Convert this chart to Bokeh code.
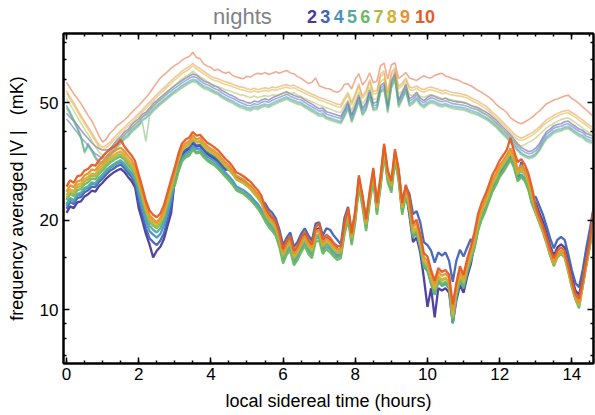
from bokeh.plotting import figure
from bokeh.layouts import column
from bokeh.models import (Range1d, FixedTicker, LinearAxis, LogAxis,
                          PrintfTickFormatter, CustomJSTickFormatter)
from bokeh.core.properties import value
from bokeh.embed import file_html
from bokeh.resources import INLINE

# Frequency-averaged |V| (mK) against local sidereal time, sampled every 0.1 h
# from 0.0 to 14.6 h.  "lower" = the strong curves, "upper" = the faint curves.

lower_n2 = [21.2, 22.3, 22.0, 23.0, 23.2, 24.1, 24.5, 25.2, 25.0, 26.1, 26.8, 27.7, 28.4, 29.0, 29.5, 29.9, 29.2, 28.1, 27.2, 25.9,
            22.0, 20.0, 18.0, 16.6, 15.0, 15.8, 16.3, 17.3, 19.2, 21.2,
            27.6, 30.8, 33.3, 34.3, 34.9, 36.5, 35.5, 35.7, 34.5, 33.5, 32.9, 32.3, 31.6, 30.6, 29.6, 30.3, 29.3, 28.0, 27.6, 27.2, 26.6, 26.0, 25.1, 24.3, 23.3,
            21.8, 20.8, 20.2, 19.4, 17.7, 15.7, 16.7, 17.3, 15.5, 16.1, 17.1, 18.0, 16.9, 16.3, 18.6, 18.8, 16.9, 17.5, 17.1, 16.5, 16.1,
            15.5, 18.6, 21.0, 17.2, 20.6, 27.0, 23.1, 19.2, 23.9, 28.6, 21.8, 26.9, 34.5, 28.0, 25.9, 33.1, 28.4, 21.8, 25.1,
            20.8, 16.9, 17.5, 15.6, 12.8, 10.2, 11.8, 9.4, 11.8, 11.6, 11.8, 11.4, 9.0, 10.7, 12.1, 11.4, 12.9, 14.2,
            16.5, 19.0, 20.8, 22.1, 23.9, 25.8, 27.2, 28.9, 30.1, 31.4, 33.0, 31.0, 27.9, 30.6, 28.8, 26.0, 23.3,
            22.9, 21.2, 19.8, 18.1, 16.4, 15.2, 16.2, 16.6, 16.2, 14.6, 12.9, 11.6, 11.2, 12.9, 15.2, 17.7, 21.8]

lower_n3 = [21.9, 23.1, 22.7, 23.8, 24.0, 24.9, 25.3, 26.0, 25.9, 27.0, 27.7, 28.6, 29.4, 29.9, 30.5, 30.9, 30.1, 29.0, 28.1, 26.8,
            23.1, 20.9, 18.8, 17.4, 16.9, 16.5, 17.1, 18.1, 20.1, 22.2,
            27.9, 31.1, 33.7, 34.7, 35.2, 36.8, 35.8, 36.0, 34.8, 33.9, 33.3, 32.7, 31.9, 30.9, 29.9, 29.6, 28.8, 27.8, 27.4, 27.0, 26.4, 25.8, 25.0, 24.1, 23.0,
            22.9, 21.8, 21.2, 20.3, 18.6, 16.5, 17.5, 18.2, 16.3, 16.9, 18.0, 18.8, 17.8, 17.1, 19.5, 19.7, 17.8, 18.8, 18.6, 17.8, 17.2,
            16.6, 20.4, 22.2, 18.4, 21.0, 27.2, 23.9, 20.0, 24.2, 29.0, 22.6, 27.0, 35.0, 29.0, 26.8, 33.4, 29.4, 22.8, 26.0,
            24.6, 21.0, 21.5, 19.7, 16.9, 16.5, 15.8, 14.4, 15.6, 15.2, 15.6, 14.6, 12.4, 14.6, 15.9, 15.1, 16.2, 17.3,
            16.5, 19.0, 20.8, 22.1, 23.9, 25.8, 27.2, 28.9, 30.1, 31.4, 33.0, 31.0, 27.9, 31.5, 28.8, 26.6, 24.0,
            24.0, 22.4, 20.9, 19.1, 17.4, 16.1, 17.2, 17.6, 17.2, 15.4, 13.6, 12.3, 11.9, 13.6, 16.1, 18.7, 22.0]

lower_n4 = [22.4, 23.6, 23.2, 24.3, 24.5, 25.5, 25.8, 26.6, 26.4, 27.6, 28.3, 29.3, 30.0, 30.6, 31.2, 31.5, 30.8, 29.6, 28.7, 27.4,
            24.4, 22.1, 19.9, 18.4, 17.9, 17.5, 18.0, 19.2, 21.2, 23.4,
            27.1, 30.1, 32.6, 33.6, 34.2, 35.7, 34.8, 34.9, 33.8, 32.8, 32.3, 31.7, 30.9, 30.0, 29.0, 28.2, 27.3, 26.1, 25.7, 25.3, 24.8, 24.2, 23.4, 22.7, 21.7,
            20.8, 19.8, 19.2, 18.4, 16.9, 14.9, 15.9, 16.5, 14.7, 15.3, 16.3, 17.1, 16.1, 15.5, 17.7, 17.8, 16.1, 16.7, 16.3, 15.7, 15.3,
            15.3, 18.4, 20.8, 17.1, 20.4, 26.8, 22.9, 19.0, 23.7, 28.3, 21.5, 26.6, 34.1, 27.7, 25.6, 32.8, 28.1, 21.5, 24.8,
            21.7, 17.7, 18.2, 16.3, 14.0, 13.6, 12.3, 11.3, 12.5, 12.1, 12.3, 11.9, 9.0, 11.1, 12.7, 11.9, 13.4, 14.8,
            16.3, 18.8, 20.5, 21.9, 23.6, 25.5, 26.9, 28.6, 29.8, 31.1, 32.6, 30.7, 27.6, 28.6, 27.6, 25.7, 23.0,
            21.6, 20.0, 18.6, 17.1, 15.5, 14.3, 15.3, 15.7, 15.3, 13.7, 12.2, 11.0, 10.4, 12.2, 14.3, 16.7, 20.6]

lower_n5 = [22.7, 23.8, 23.4, 24.6, 24.8, 25.7, 26.1, 26.9, 26.7, 27.8, 28.6, 29.6, 30.3, 30.9, 31.5, 31.9, 31.1, 30.0, 29.0, 27.6,
            25.4, 23.1, 20.8, 19.2, 18.6, 18.2, 18.8, 20.0, 22.1, 24.4,
            26.5, 29.5, 32.0, 32.9, 33.5, 35.0, 34.0, 34.2, 33.1, 32.1, 31.6, 31.0, 30.3, 29.3, 28.4, 27.6, 26.7, 25.6, 25.2, 24.8, 24.3, 23.7, 22.9, 22.2, 21.2,
            20.3, 19.4, 18.8, 18.1, 16.5, 14.6, 15.6, 16.2, 14.4, 15.0, 16.0, 16.7, 15.8, 15.2, 17.3, 17.5, 15.8, 16.3, 16.0, 15.4, 15.0,
            15.2, 18.2, 20.5, 16.9, 20.2, 26.5, 22.7, 18.8, 23.4, 28.0, 21.3, 26.3, 33.8, 27.5, 25.3, 32.4, 27.8, 21.3, 24.6,
            21.5, 17.5, 18.1, 16.2, 13.9, 13.5, 12.2, 11.2, 12.4, 12.0, 12.2, 11.8, 9.0, 11.0, 12.5, 11.8, 13.3, 14.6,
            16.2, 18.6, 20.3, 21.7, 23.4, 25.3, 26.6, 28.3, 29.5, 30.8, 32.3, 30.4, 27.4, 28.3, 27.4, 25.5, 22.8,
            21.3, 19.8, 18.4, 16.9, 15.3, 14.2, 15.1, 15.5, 15.1, 13.6, 12.0, 10.9, 10.5, 12.0, 14.2, 16.5, 20.4]

lower_n6 = [23.4, 24.6, 24.2, 25.3, 25.5, 26.5, 26.9, 27.7, 27.5, 28.7, 29.5, 30.5, 31.3, 31.9, 32.5, 32.9, 32.1, 30.9, 29.9, 28.5,
            26.2, 23.8, 21.4, 19.8, 19.2, 18.8, 19.4, 20.6, 22.8, 25.2,
            26.2, 29.2, 31.6, 32.6, 33.1, 34.6, 33.7, 33.9, 32.7, 31.8, 31.2, 30.7, 29.9, 29.0, 28.1, 27.3, 26.4, 25.3, 24.9, 24.6, 24.0, 23.4, 22.7, 21.9, 21.0,
            19.9, 19.0, 18.4, 17.7, 16.2, 14.3, 15.3, 15.8, 14.1, 14.7, 15.6, 16.4, 15.4, 14.9, 16.9, 17.1, 15.4, 16.0, 15.6, 15.1, 14.7,
            14.9, 17.9, 20.1, 16.5, 19.7, 25.9, 22.2, 18.4, 22.9, 27.4, 20.9, 25.8, 33.1, 26.9, 24.8, 31.8, 27.3, 20.9, 24.1,
            21.9, 17.8, 18.4, 16.5, 14.2, 13.8, 12.4, 11.4, 12.6, 12.2, 12.4, 12.0, 9.3, 11.3, 12.8, 12.0, 13.6, 14.9,
            16.0, 18.4, 20.1, 21.4, 23.1, 25.0, 26.3, 28.0, 29.1, 30.5, 32.0, 30.1, 27.1, 28.0, 27.1, 25.2, 22.6,
            21.1, 19.6, 18.2, 16.7, 15.2, 14.0, 15.0, 15.4, 15.0, 13.4, 11.9, 10.8, 10.1, 11.9, 14.0, 16.3, 20.2]

lower_n7 = [23.8, 25.0, 24.6, 25.9, 26.1, 27.1, 27.5, 28.3, 28.1, 29.3, 30.1, 31.1, 31.9, 32.5, 33.1, 33.5, 32.7, 31.5, 30.5, 29.1,
            26.5, 24.0, 21.6, 20.0, 19.4, 19.0, 19.6, 20.8, 23.0, 25.5,
            28.5, 31.7, 34.3, 35.4, 36.0, 37.6, 36.6, 36.8, 35.6, 34.5, 33.9, 33.3, 32.5, 31.5, 30.5, 29.7, 28.7, 27.5, 27.1, 26.7, 26.1, 25.5, 24.6, 23.8, 22.8,
            21.0, 20.0, 19.4, 18.6, 17.1, 15.1, 16.1, 16.7, 14.9, 15.5, 16.5, 17.2, 16.3, 15.7, 17.8, 18.0, 16.3, 16.9, 16.5, 15.9, 15.5,
            15.6, 18.8, 21.2, 17.4, 20.8, 27.3, 23.4, 19.4, 24.2, 28.9, 22.0, 27.1, 34.8, 28.3, 26.1, 33.5, 28.7, 22.0, 25.3,
            22.4, 18.2, 18.8, 16.8, 14.5, 14.1, 12.7, 11.7, 12.9, 12.5, 12.7, 12.3, 9.4, 11.5, 13.1, 12.3, 13.9, 15.2,
            16.8, 19.4, 21.2, 22.6, 24.4, 26.3, 27.7, 29.5, 30.7, 32.1, 33.7, 31.7, 28.5, 29.5, 28.5, 26.5, 23.8,
            21.3, 19.8, 18.4, 16.9, 15.3, 14.2, 15.1, 15.5, 15.1, 13.6, 12.0, 10.9, 10.3, 12.0, 14.2, 16.5, 20.4]

lower_n8 = [24.3, 25.5, 25.1, 26.4, 26.6, 27.6, 28.0, 28.8, 28.6, 29.9, 30.7, 31.7, 32.5, 33.2, 33.8, 34.2, 33.4, 32.1, 31.1, 29.7,
            27.0, 24.5, 22.0, 20.4, 19.8, 19.4, 20.0, 21.2, 23.5, 26.0,
            28.8, 32.0, 34.7, 35.7, 36.3, 37.9, 36.9, 37.1, 35.9, 34.9, 34.3, 33.7, 32.8, 31.8, 30.8, 30.0, 29.0, 27.7, 27.3, 26.9, 26.3, 25.7, 24.9, 24.1, 23.1,
            21.4, 20.4, 19.8, 19.0, 17.4, 15.4, 16.4, 17.0, 15.2, 15.8, 16.8, 17.6, 16.6, 16.0, 18.2, 18.4, 16.6, 17.2, 16.8, 16.2, 15.8,
            15.8, 19.0, 21.4, 17.6, 21.0, 27.6, 23.6, 19.6, 24.4, 29.2, 22.2, 27.4, 35.2, 28.6, 26.4, 33.8, 29.0, 22.2, 25.6,
            22.6, 18.4, 19.0, 17.0, 14.6, 14.2, 12.8, 11.8, 13.0, 12.6, 12.8, 12.4, 9.6, 11.6, 13.2, 12.4, 14.0, 15.4,
            17.2, 19.8, 21.6, 23.0, 24.8, 26.9, 28.3, 30.1, 31.3, 32.7, 34.3, 32.3, 29.1, 30.1, 29.1, 27.1, 24.2,
            21.6, 20.0, 18.6, 17.1, 15.5, 14.3, 15.3, 15.7, 15.3, 13.7, 12.2, 11.0, 10.4, 12.2, 14.3, 16.7, 20.6]

lower_n9 = [25.0, 26.3, 25.9, 27.1, 27.3, 28.4, 28.8, 29.7, 29.5, 30.7, 31.6, 32.6, 33.5, 34.1, 34.8, 35.2, 34.3, 33.1, 32.0, 30.5,
            27.5, 25.0, 22.5, 20.8, 20.2, 19.7, 20.4, 21.6, 23.9, 26.5,
            29.3, 32.7, 35.4, 36.4, 37.0, 38.7, 37.6, 37.9, 36.6, 35.6, 34.9, 34.3, 33.5, 32.4, 31.4, 30.6, 29.5, 28.3, 27.9, 27.5, 26.8, 26.2, 25.4, 24.5, 23.5,
            21.6, 20.6, 20.0, 19.2, 17.6, 15.6, 16.6, 17.2, 15.4, 16.0, 17.0, 17.8, 16.8, 16.2, 18.4, 18.6, 16.8, 17.4, 17.0, 16.4, 16.0,
            16.0, 19.2, 21.6, 17.8, 21.2, 27.9, 23.8, 19.8, 24.6, 29.5, 22.4, 27.7, 35.6, 28.9, 26.7, 34.1, 29.3, 22.4, 25.9,
            23.3, 19.0, 19.6, 17.5, 15.0, 14.6, 13.2, 12.2, 13.4, 13.0, 13.2, 12.8, 9.9, 11.9, 13.6, 12.8, 14.4, 15.9,
            17.5, 20.2, 22.0, 23.5, 25.3, 27.4, 28.8, 30.7, 31.9, 33.4, 35.0, 33.0, 29.7, 30.7, 29.7, 27.6, 24.7,
            21.8, 20.2, 18.8, 17.2, 15.6, 14.5, 15.4, 15.8, 15.4, 13.9, 12.3, 11.1, 10.5, 12.3, 14.5, 16.8, 20.8]

lower_n10 = [26.0, 27.3, 26.8, 28.2, 28.4, 29.5, 29.9, 30.8, 30.6, 31.9, 32.8, 33.9, 34.8, 35.4, 36.1, 37.5, 35.6, 34.3, 33.2, 31.7,
             28.6, 25.9, 23.3, 21.6, 20.9, 20.5, 21.1, 22.5, 24.9, 27.5,
             30.2, 33.6, 36.4, 37.5, 38.1, 39.8, 38.7, 38.9, 37.7, 36.6, 36.0, 35.3, 34.5, 33.4, 32.3, 31.5, 30.4, 29.1, 28.7, 28.2, 27.6, 27.0, 26.1, 25.3, 24.2,
             22.3, 21.2, 20.6, 19.8, 18.1, 16.0, 17.1, 17.7, 15.8, 16.4, 17.5, 18.3, 17.3, 16.6, 18.9, 19.6, 17.3, 17.9, 17.5, 16.8, 16.4,
             16.3, 19.6, 22.0, 18.1, 21.6, 28.4, 24.3, 20.2, 25.1, 30.1, 22.9, 28.2, 36.3, 29.5, 27.2, 34.8, 29.9, 22.9, 26.4,
             24.0, 19.5, 20.1, 18.0, 15.5, 15.1, 13.6, 12.5, 13.8, 13.4, 13.6, 13.1, 10.4, 12.3, 14.0, 13.1, 14.8, 16.3,
             18.2, 21.0, 22.9, 24.4, 26.3, 28.5, 30.0, 31.9, 33.2, 34.7, 38.0, 34.2, 31.5, 32.2, 30.8, 28.7, 25.7,
             22.4, 20.6, 19.2, 17.6, 16.0, 14.9, 15.8, 16.2, 15.8, 14.2, 12.5, 11.3, 10.9, 12.5, 14.8, 17.3, 21.8]

upper_n2 = [46.0, 44.6, 43.4, 42.0, 40.4, 39.0, 37.8, 36.6, 35.6, 35.0,
            34.6, 34.6, 34.7, 36.1, 37.4, 38.4, 39.7, 40.5, 42.0, 43.1,
            44.1, 45.6, 46.4, 47.9, 49.6, 50.8, 52.1, 53.3, 54.6, 55.9,
            57.1, 58.2, 59.4, 60.5, 61.5, 62.4, 62.0, 60.5, 59.2, 58.6,
            57.8, 56.9, 56.3, 55.0, 54.2, 53.3, 52.7, 51.9, 51.0, 50.6,
            50.0, 49.8, 50.6, 50.2, 51.0, 51.5, 51.0, 51.9, 52.5, 53.1,
            53.8, 54.4, 53.6, 52.9, 52.3, 52.1, 51.0, 50.2, 49.4, 48.5,
            47.7, 47.9, 46.6, 46.2, 45.8, 45.4, 44.9, 47.3, 50.4, 45.4,
            48.9, 53.1, 47.9, 50.0, 55.2, 49.8, 50.2, 57.1, 58.4, 48.9,
            59.2, 63.0, 51.0, 54.2, 57.8, 51.5, 52.5, 54.2, 51.9, 50.8,
            52.1, 52.9, 52.5, 51.7, 51.2, 51.7, 51.0, 50.6, 50.4, 50.2,
            50.0, 49.6, 48.9, 48.5, 48.1, 47.3, 46.6, 45.8, 44.7, 43.7,
            42.4, 41.2, 40.1, 38.9, 37.6, 36.3, 35.3, 34.7, 34.2, 34.4,
            35.1, 36.3, 38.2, 39.9, 40.7, 41.8, 42.2, 42.4, 43.1, 43.3,
            42.4, 41.6, 40.7, 40.3, 39.3, 38.9, 38.4]

upper_n3 = [44.0, 42.6, 41.0, 39.6, 38.0, 37.0, 35.8, 34.6, 33.6, 33.0,
            32.4, 32.8, 34.0, 35.4, 36.7, 37.7, 38.9, 39.8, 41.2, 42.2,
            43.3, 44.7, 45.5, 47.0, 48.6, 49.9, 51.1, 52.3, 53.6, 54.8,
            56.0, 57.1, 58.3, 59.3, 60.4, 61.2, 60.8, 59.3, 58.1, 57.5,
            56.7, 55.8, 55.2, 54.0, 53.1, 52.3, 51.7, 50.9, 50.1, 49.6,
            49.0, 48.8, 49.6, 49.2, 50.1, 50.5, 50.1, 50.9, 51.5, 52.1,
            52.7, 53.4, 52.5, 51.9, 51.3, 51.1, 50.1, 49.2, 48.4, 47.6,
            46.8, 47.0, 45.7, 45.3, 44.9, 44.5, 44.1, 46.4, 49.4, 44.5,
            48.0, 52.1, 47.0, 49.0, 54.2, 48.8, 49.2, 56.0, 57.3, 48.0,
            58.1, 61.8, 50.1, 53.1, 56.7, 50.5, 51.5, 53.1, 50.9, 49.9,
            51.1, 51.9, 51.5, 50.7, 50.3, 50.7, 50.1, 49.6, 49.4, 49.2,
            49.0, 48.6, 48.0, 47.6, 47.2, 46.4, 45.7, 44.9, 43.9, 42.8,
            41.6, 40.4, 39.3, 38.1, 36.9, 35.6, 34.6, 34.0, 33.6, 33.8,
            34.4, 35.6, 37.5, 39.1, 40.0, 41.0, 41.4, 41.6, 42.2, 42.4,
            41.6, 40.8, 40.0, 39.6, 38.5, 38.1, 37.7]

upper_n4 = [49.0, 46.5, 43.9, 41.4, 38.6, 34.3, 36.4, 34.7, 32.9, 31.7,
            31.3, 32.1, 33.3, 34.7, 36.0, 37.0, 38.2, 39.0, 40.4, 41.4,
            42.4, 43.8, 44.6, 46.1, 47.7, 48.9, 50.1, 51.3, 52.5, 53.7,
            54.9, 56.0, 57.2, 58.2, 59.2, 60.0, 59.6, 58.2, 57.0, 56.4,
            55.6, 54.7, 54.1, 52.9, 52.1, 51.3, 50.7, 49.9, 49.1, 48.7,
            48.1, 47.9, 48.7, 48.3, 49.1, 49.5, 49.1, 49.9, 50.5, 51.1,
            51.7, 52.3, 51.5, 50.9, 50.3, 50.1, 49.1, 48.3, 47.5, 46.7,
            45.9, 46.1, 44.8, 44.4, 44.0, 43.6, 43.2, 45.5, 48.5, 43.6,
            47.1, 51.1, 46.1, 48.1, 53.1, 47.9, 48.3, 54.9, 56.2, 47.1,
            57.0, 60.6, 49.1, 52.1, 55.6, 49.5, 50.5, 52.1, 49.9, 48.9,
            50.1, 50.9, 50.5, 49.7, 49.3, 49.7, 49.1, 48.7, 48.5, 48.3,
            48.1, 47.7, 47.1, 46.7, 46.3, 45.5, 44.8, 44.0, 43.0, 42.0,
            40.8, 39.6, 38.6, 37.4, 36.2, 34.9, 33.9, 33.3, 32.9, 33.1,
            33.7, 34.9, 36.8, 38.4, 39.2, 40.2, 40.6, 40.8, 41.4, 41.6,
            40.8, 40.0, 39.2, 38.8, 37.8, 37.4, 37.0]

upper_n5 = [48.5, 46.0, 43.5, 41.0, 38.2, 34.0, 36.0, 34.4, 32.6, 31.4,
            31.0, 31.8, 33.0, 34.4, 35.6, 36.6, 37.8, 38.6, 40.0, 41.0,
            42.0, 43.4, 44.2, 45.6, 47.2, 48.4, 49.6, 50.8, 52.0, 53.2,
            54.4, 55.4, 56.6, 57.6, 58.6, 59.4, 59.0, 57.6, 56.4, 55.8,
            55.0, 54.2, 53.6, 52.4, 51.6, 50.8, 50.2, 49.4, 48.6, 48.2,
            47.6, 47.4, 48.2, 47.8, 48.6, 49.0, 48.6, 49.4, 50.0, 50.6,
            51.2, 51.8, 51.0, 50.4, 49.8, 49.6, 48.6, 47.8, 47.0, 46.2,
            45.4, 45.6, 44.4, 44.0, 43.6, 43.2, 42.8, 45.0, 48.0, 43.2,
            46.6, 50.6, 45.6, 47.6, 52.6, 47.4, 47.8, 54.4, 55.6, 46.6,
            56.4, 60.0, 48.6, 51.6, 55.0, 49.0, 50.0, 51.6, 49.4, 48.4,
            49.6, 50.4, 50.0, 49.2, 48.8, 49.2, 48.6, 48.2, 48.0, 47.8,
            47.6, 47.2, 46.6, 46.2, 45.8, 45.0, 44.4, 43.6, 42.6, 41.6,
            40.4, 39.2, 38.2, 37.0, 35.8, 34.6, 33.6, 33.0, 32.6, 32.8,
            33.4, 34.6, 36.4, 38.0, 38.8, 39.8, 40.2, 40.4, 41.0, 41.2,
            40.4, 39.6, 38.8, 38.4, 37.4, 37.0, 36.6]

upper_n6 = [48.0, 45.5, 43.1, 40.6, 37.8, 33.7, 35.6, 34.1, 32.3, 31.1,
            30.7, 31.5, 32.7, 34.1, 35.2, 36.2, 37.4, 38.2, 39.6, 40.6,
            41.6, 43.0, 37.0, 45.1, 46.7, 47.9, 49.1, 50.3, 51.5, 52.7,
            53.9, 54.8, 56.0, 57.0, 58.0, 58.8, 58.4, 57.0, 55.8, 55.2,
            54.5, 53.7, 53.1, 51.9, 51.1, 50.3, 49.7, 48.9, 48.1, 47.7,
            47.1, 46.9, 47.7, 47.3, 48.1, 48.5, 48.1, 48.9, 49.5, 50.1,
            50.7, 51.3, 50.5, 49.9, 49.3, 49.1, 48.1, 47.3, 46.5, 45.7,
            44.9, 45.1, 44.0, 43.6, 43.2, 42.8, 42.4, 44.6, 47.5, 42.8,
            46.1, 50.1, 45.1, 47.1, 52.1, 46.9, 47.3, 53.9, 55.0, 46.1,
            55.8, 59.4, 48.1, 51.1, 54.5, 48.5, 49.5, 51.1, 48.9, 47.9,
            49.1, 49.9, 49.5, 48.7, 48.3, 48.7, 48.1, 47.7, 47.5, 47.3,
            47.1, 46.7, 46.1, 45.7, 45.3, 44.6, 44.0, 43.2, 42.2, 41.2,
            40.0, 38.8, 37.8, 36.6, 35.4, 34.3, 33.3, 32.7, 32.3, 32.5,
            33.1, 34.3, 36.0, 37.6, 38.4, 39.4, 39.8, 40.0, 40.6, 40.8,
            40.0, 39.2, 38.4, 38.0, 37.0, 36.6, 36.2]

upper_n7 = [51.6, 49.2, 47.0, 44.7, 42.6, 40.7, 39.0, 37.2, 35.5, 34.0,
            33.2, 33.8, 34.6, 35.7, 36.7, 37.8, 38.8, 39.9, 40.9, 42.0,
            43.2, 44.5, 45.9, 47.2, 48.6, 50.1, 51.5, 52.8, 54.3, 55.7,
            57.2, 58.6, 60.1, 61.2, 62.2, 63.9, 62.4, 61.2, 60.1, 58.9,
            57.8, 57.0, 56.6, 55.9, 55.3, 54.9, 54.3, 53.8, 53.2, 53.0,
            52.4, 52.0, 52.6, 52.0, 52.4, 52.8, 52.4, 53.2, 52.8, 53.4,
            53.8, 54.1, 53.6, 54.0, 53.0, 52.4, 51.6, 50.9, 50.3, 49.7,
            49.0, 48.6, 48.0, 47.6, 47.0, 46.5, 46.3, 48.8, 50.9, 47.0,
            50.5, 54.5, 49.5, 51.6, 56.3, 51.3, 51.6, 58.9, 60.1, 50.7,
            59.5, 61.6, 53.4, 54.7, 57.0, 53.2, 52.8, 53.6, 52.6, 52.0,
            52.8, 53.2, 52.6, 52.2, 51.5, 51.8, 51.3, 50.9, 50.7, 50.5,
            50.1, 49.7, 49.0, 48.2, 47.6, 46.7, 45.9, 44.9, 43.6, 42.6,
            41.5, 40.3, 39.2, 38.0, 36.9, 36.1, 35.7, 36.1, 36.7, 37.2,
            38.0, 39.0, 40.1, 41.1, 41.9, 42.6, 43.2, 43.8, 44.2, 44.4,
            43.6, 42.8, 41.9, 41.1, 40.1, 39.4, 38.6]

upper_n8 = [53.8, 51.2, 49.0, 46.6, 44.4, 42.4, 40.6, 38.8, 37.0, 35.4,
            34.6, 35.2, 36.0, 37.2, 38.2, 39.4, 40.4, 41.6, 42.6, 43.8,
            45.0, 46.4, 47.8, 49.2, 50.6, 52.2, 53.6, 55.0, 56.6, 58.0,
            59.6, 61.0, 62.6, 63.8, 64.8, 66.6, 65.0, 63.8, 62.6, 61.4,
            60.2, 59.4, 59.0, 58.2, 57.6, 57.2, 56.6, 56.0, 55.4, 55.2,
            54.6, 54.2, 54.8, 54.2, 54.6, 55.0, 54.6, 55.4, 55.0, 55.6,
            56.0, 56.4, 55.8, 56.2, 55.2, 54.6, 53.8, 53.0, 52.4, 51.8,
            51.0, 50.6, 50.0, 49.6, 49.0, 48.4, 48.2, 50.8, 53.0, 49.0,
            52.6, 56.8, 51.6, 53.8, 58.6, 53.4, 53.8, 61.4, 62.6, 52.8,
            62.0, 64.2, 55.6, 57.0, 59.4, 55.4, 55.0, 55.8, 54.8, 54.2,
            55.0, 55.4, 54.8, 54.4, 53.6, 54.0, 53.4, 53.0, 52.8, 52.6,
            52.2, 51.8, 51.0, 50.2, 49.6, 48.6, 47.8, 46.8, 45.4, 44.4,
            43.2, 42.0, 40.8, 39.6, 38.4, 37.6, 37.2, 37.6, 38.2, 38.8,
            39.6, 40.6, 41.8, 42.8, 43.6, 44.4, 45.0, 45.6, 46.0, 46.2,
            45.4, 44.6, 43.6, 42.8, 41.8, 41.0, 40.2]

upper_n9 = [54.9, 52.2, 50.0, 47.5, 45.3, 43.2, 41.4, 39.6, 37.7, 36.1,
            35.3, 35.9, 36.7, 37.9, 39.0, 40.2, 41.2, 42.4, 43.5, 44.7,
            45.9, 47.3, 48.8, 50.2, 51.6, 53.2, 54.7, 56.1, 57.7, 59.2,
            60.8, 62.2, 63.9, 65.1, 66.1, 67.9, 66.3, 65.1, 63.9, 62.6,
            61.4, 60.6, 60.2, 59.4, 58.8, 58.3, 57.7, 57.1, 56.5, 56.3,
            55.7, 55.3, 55.9, 55.3, 55.7, 56.1, 55.7, 56.5, 56.1, 56.7,
            57.1, 57.5, 56.9, 57.3, 56.3, 55.7, 54.9, 54.1, 53.4, 52.8,
            52.0, 51.6, 51.0, 50.6, 50.0, 49.4, 49.2, 51.8, 54.1, 50.0,
            53.7, 57.9, 52.6, 54.9, 59.8, 54.5, 54.9, 62.6, 63.9, 53.9,
            63.2, 65.5, 56.7, 58.1, 60.6, 56.5, 56.1, 56.9, 55.9, 55.3,
            56.1, 56.5, 55.9, 55.5, 54.7, 55.1, 54.5, 54.1, 53.9, 53.7,
            53.2, 52.8, 52.0, 51.2, 50.6, 49.6, 48.8, 47.7, 46.3, 45.3,
            44.1, 42.8, 41.6, 40.4, 39.2, 38.4, 37.9, 38.4, 39.0, 39.6,
            40.4, 41.4, 42.6, 43.7, 44.5, 45.3, 45.9, 46.5, 46.9, 47.1,
            46.3, 45.5, 44.5, 43.7, 42.6, 41.8, 41.0]

upper_n10 = [58.5, 56.0, 53.6, 51.6, 49.6, 47.4, 45.2, 43.4, 41.0, 38.6,
             36.8, 37.6, 39.4, 40.4, 41.8, 42.6, 43.6, 44.8, 46.2, 47.6,
             48.8, 50.4, 52.0, 53.8, 56.0, 58.4, 60.6, 62.0, 63.6, 65.4,
             66.8, 67.8, 69.6, 70.8, 71.6, 74.0, 71.0, 70.4, 67.6, 66.4,
             65.8, 64.2, 64.8, 63.6, 62.8, 63.4, 61.8, 61.0, 60.6, 60.2,
             61.4, 61.0, 62.2, 62.8, 62.4, 63.2, 62.2, 62.8, 63.6, 62.8,
             63.6, 64.2, 63.0, 62.6, 61.2, 60.4, 59.2, 58.0, 58.6, 60.6,
             57.0, 56.4, 55.8, 55.6, 54.6, 54.2, 55.0, 57.6, 58.0, 55.6,
             60.0, 62.6, 57.4, 59.4, 63.0, 58.4, 59.0, 66.6, 68.0, 60.0,
             67.0, 68.2, 60.4, 61.6, 63.2, 60.6, 60.0, 59.4, 60.6, 61.6,
             60.8, 60.6, 61.8, 62.4, 62.8, 61.4, 61.0, 60.2, 59.8, 59.2,
             58.2, 57.8, 57.0, 56.0, 55.0, 54.2, 53.2, 52.2, 51.0, 49.4,
             48.2, 47.4, 46.2, 44.4, 43.6, 42.8, 42.4, 43.0, 43.8, 44.6,
             45.8, 46.8, 48.2, 49.6, 50.2, 51.0, 51.4, 52.0, 52.6, 53.0,
             51.6, 50.8, 49.6, 48.4, 47.2, 46.0, 44.8]

nights = ["2", "3", "4", "5", "6", "7", "8", "9", "10"]
night_colors = ["#48399a", "#3e63b8", "#4a92c6", "#55aa9c", "#6cb862",
                "#a8b944", "#d6ae34", "#e8912e", "#e45c27"]
lower_series = [lower_n2, lower_n3, lower_n4, lower_n5, lower_n6,
                lower_n7, lower_n8, lower_n9, lower_n10]
upper_series = [upper_n2, upper_n3, upper_n4, upper_n5, upper_n6,
                upper_n7, upper_n8, upper_n9, upper_n10]

x_major = [0, 2, 4, 6, 8, 10, 12, 14]
x_minor = [0.5 * k for k in range(30)]
y_major = [10, 20, 50]
y_minor = [7, 8, 9, 15, 30, 40, 60, 70, 80]

N_SAMPLES = 147
bad = [(i, len(s)) for i, s in enumerate(lower_series + upper_series) if len(s) != N_SAMPLES]
if bad:
    raise ValueError(f"series with wrong length: {bad}")

hours = [round(0.1 * i, 1) for i in range(N_SAMPLES)]

FONT = "Liberation Sans"
WIDTH = 595
HEADER_H = 31
MAIN_H = 415 - HEADER_H
X_START, X_END = -0.083, 14.60
BORDER_L, BORDER_R = 63, 2

# ---- main panel -------------------------------------------------------------
p = figure(width=WIDTH, height=MAIN_H, y_axis_type="log",
           x_range=Range1d(X_START, X_END), y_range=Range1d(6.57, 85.6),
           output_backend="svg", toolbar_location=None,
           min_border_left=BORDER_L, min_border_right=BORDER_R,
           min_border_top=2, min_border_bottom=52,
           background_fill_color="white", border_fill_color="white")
p.grid.visible = False
p.outline_line_color = "black"
p.outline_line_width = 2

# faint curves first, strong curves on top (night 10 drawn last)
for color, series in zip(night_colors, upper_series):
    p.line(hours, series, line_color=color, line_alpha=0.5, line_width=1.6)
for color, series in zip(night_colors, lower_series):
    p.line(hours, series, line_color=color, line_alpha=0.95, line_width=2.3)


def style_axis(ax, ticker):
    ax.ticker = ticker
    ax.axis_line_color = "black"
    ax.axis_line_width = 2
    ax.major_tick_in = 6
    ax.major_tick_out = 0
    ax.minor_tick_in = 3
    ax.minor_tick_out = 0
    ax.major_tick_line_width = 1.5
    ax.minor_tick_line_width = 1.5
    ax.major_tick_line_color = "black"
    ax.minor_tick_line_color = "black"


x_ticker = FixedTicker(ticks=x_major, minor_ticks=x_minor)
y_ticker = FixedTicker(ticks=y_major, minor_ticks=y_minor)

xa = p.xaxis[0]
style_axis(xa, x_ticker)
xa.major_label_text_font = FONT
xa.major_label_text_font_size = "17px"
xa.major_label_text_color = "black"
xa.major_label_standoff = 4
xa.axis_label = "local sidereal time (hours)"
xa.axis_label_text_font = FONT
xa.axis_label_text_font_size = "18px"
xa.axis_label_text_font_style = "normal"
xa.axis_label_text_color = "black"
xa.axis_label_standoff = 8

ya = p.yaxis[0]
style_axis(ya, y_ticker)
ya.formatter = PrintfTickFormatter(format="%d")
ya.major_label_text_font = FONT
ya.major_label_text_font_size = "17px"
ya.major_label_text_color = "black"
ya.major_label_standoff = 5
ya.axis_label = "frequency averaged |V\u00a0|\u00a0\u00a0\u00a0(mK)"
ya.axis_label_text_font = FONT
ya.axis_label_text_font_size = "18px"
ya.axis_label_text_font_style = "normal"
ya.axis_label_text_color = "black"
ya.axis_label_standoff = 10

blank = CustomJSTickFormatter(code="return ''")
top = LinearAxis(formatter=blank, major_label_text_font_size="1px", major_label_standoff=0)
style_axis(top, x_ticker)
p.add_layout(top, "above")
right = LogAxis(formatter=blank, major_label_text_font_size="1px", major_label_standoff=0)
style_axis(right, y_ticker)
p.add_layout(right, "right")

# ---- header strip: "nights" followed by the coloured night numbers ---------
# shares the main panel's horizontal mapping (hours), vertical axis in pixels
head = figure(width=WIDTH, height=HEADER_H,
              x_range=Range1d(X_START, X_END), y_range=Range1d(HEADER_H, 0),
              x_axis_location=None, y_axis_location=None,
              output_backend="svg", toolbar_location=None,
              min_border_left=BORDER_L, min_border_right=BORDER_R,
              min_border_top=0, min_border_bottom=0,
              outline_line_color=None,
              background_fill_color="white", border_fill_color="white")
head.grid.visible = False

TEXT_MID = HEADER_H / 2 + 0.5
head.text(x=[4.875], y=[TEXT_MID], text=["nights"], text_color="#828282",
          text_font=value(FONT), text_font_size="22px",
          text_align="center", text_baseline="middle")

digit_step = 0.368          # hours per digit
centers = []
pos = 6.62
for name in nights:
    w = digit_step * len(name)
    centers.append(pos + w / 2)
    pos += w
head.text(x=centers, y=[TEXT_MID] * len(nights), text=nights,
          text_color=night_colors,
          text_font=value(FONT), text_font_size="18px", text_font_style="bold",
          text_align="center", text_baseline="middle")

layout = column(head, p, spacing=0)
open("out.html", "w").write(file_html(layout, INLINE))
